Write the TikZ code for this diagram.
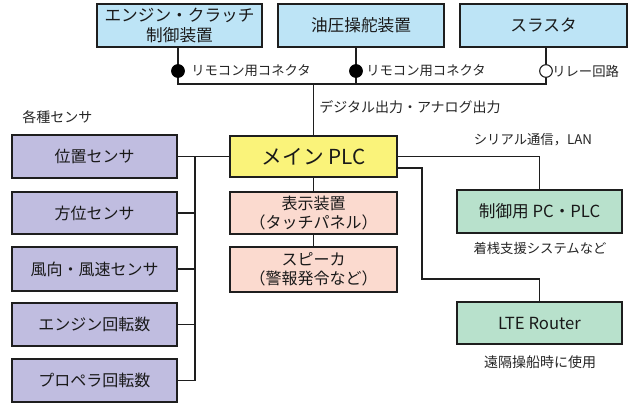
\documentclass[tikz,border=0pt]{standalone}
\usepackage{fontspec}
\setmainfont{Noto Sans CJK JP}
\definecolor{cblue}{RGB}{189,228,246}
\definecolor{cpurple}{RGB}{192,189,224}
\definecolor{cyellow}{RGB}{250,243,122}
\definecolor{cpink}{RGB}{251,218,207}
\definecolor{cgreen}{RGB}{184,225,204}
\definecolor{cline}{RGB}{30,30,30}
\tikzset{
  boxst/.style={draw=cline, line width=0.9pt, inner sep=0pt, align=center, text=black!90},
  conn/.style={draw=cline, line width=0.85pt},
  lbl/.style={inner sep=0pt, text=black!85},
  dotst/.style={circle, inner sep=0pt, minimum size=9.5pt, line width=0.8pt},
}
\newcommand\mybox[8]{\node[boxst, fill=#6, font={\fontsize{#8}{14.5}\selectfont}, minimum width={(#4-#2)*0.75pt}, minimum height={(#5-#3)*0.75pt}] (#1) at ({(#2+#4)/2},{(#3+#5)/2}) {#7};}
\begin{document}
\begin{tikzpicture}[x=0.75pt,y=-0.75pt]
\useasboundingbox[fill=white] (0,0) rectangle (632,405);
% top boxes
\mybox{eng}{97}{4}{262}{47}{cblue}{エンジン・クラッチ\\ 制御装置}{12.5}
\mybox{oil}{278}{4}{444}{47}{cblue}{油圧操舵装置}{12.5}
\mybox{thr}{460}{4}{627}{47}{cblue}{スラスタ}{12.5}
\coordinate (busM) at (313.5,84);
% main PLC
\mybox{plc}{230}{136}{397}{177}{cyellow}{メイン PLC}{15.5}
\mybox{disp}{230}{192}{397}{234}{cpink}{表示装置\\（タッチパネル）}{12}
\mybox{spk}{230}{247}{397}{292}{cpink}{スピーカ\\（警報発令など）}{12}
% sensors
\mybox{s1}{12}{135}{177}{178}{cpurple}{位置センサ}{12}
\mybox{s2}{12}{192}{177}{234}{cpurple}{方位センサ}{12}
\mybox{s3}{12}{247}{177}{291}{cpurple}{風向・風速センサ}{12}
\mybox{s4}{12}{303}{177}{346}{cpurple}{エンジン回転数}{12}
\mybox{s5}{12}{359}{177}{402}{cpurple}{プロペラ回転数}{12}
% right boxes
\mybox{pc}{457}{190}{622}{233}{cgreen}{制御用 PC・PLC}{12.5}
\mybox{lte}{457}{302}{622}{344}{cgreen}{LTE Router}{12.5}
% labels
\node[lbl, anchor=west] (l1) at (191,71) {\fontsize{10}{12}\selectfont リモコン用コネクタ};
\node[lbl, anchor=west] (l2) at (366,71) {\fontsize{10}{12}\selectfont リモコン用コネクタ};
\node[lbl, anchor=west] (l3) at (552,71) {\fontsize{10}{12}\selectfont リレー回路};
\node[lbl, anchor=west] (l4) at (319,107) {\fontsize{10.5}{12}\selectfont デジタル出力・アナログ出力};
\node[lbl, anchor=west] (l5) at (22,117) {\fontsize{10.5}{12}\selectfont 各種センサ};
\node[lbl] (l6) at (533,140) {\fontsize{10}{12}\selectfont シリアル通信，LAN};
\node[lbl] (l7) at (540,248) {\fontsize{10}{12}\selectfont 着桟支援システムなど};
\node[lbl] (l8) at (540,362) {\fontsize{10.5}{12}\selectfont 遠隔操船時に使用};
% connector points
\coordinate (c1) at (178,71);
\coordinate (c2) at (356,71);
\coordinate (c3) at (546,71);
% connectors top
\draw[conn] (eng.south -| c1) -- (c1 |- busM) -- (c3 |- busM) -- (thr.south -| c3);
\draw[conn] (oil.south -| c2) -- (c2 |- busM);
\draw[conn] (busM) -- (plc.north);
\node[dotst, fill=black, draw=black] (d1) at (c1) {};
\node[dotst, fill=black, draw=black] (d2) at (c2) {};
\node[dotst, fill=white, draw=cline] (d3) at (c3) {};
% center column
\draw[conn] (plc.south) -- (disp.north);
\draw[conn] (disp.south) -- (spk.north);
% sensors
\coordinate (jL) at (195,156.5);
\draw[conn] (s1.east) -- (plc.west);
\draw[conn] (jL) -- (jL |- s5.east);
\draw[conn] (s2.east) -- (s2.east -| jL);
\draw[conn] (s3.east) -- (s3.east -| jL);
\draw[conn] (s4.east) -- (s4.east -| jL);
\draw[conn] (s5.east) -- (s5.east -| jL);
% right side
\draw[conn] (plc.east) -| (pc.north);
\coordinate (t1) at (422,168);
\coordinate (t2) at (422,279);
\draw[conn] (plc.east |- t1) -- (t1) -- (t2) -| (lte.north);
\end{tikzpicture}
\end{document}
